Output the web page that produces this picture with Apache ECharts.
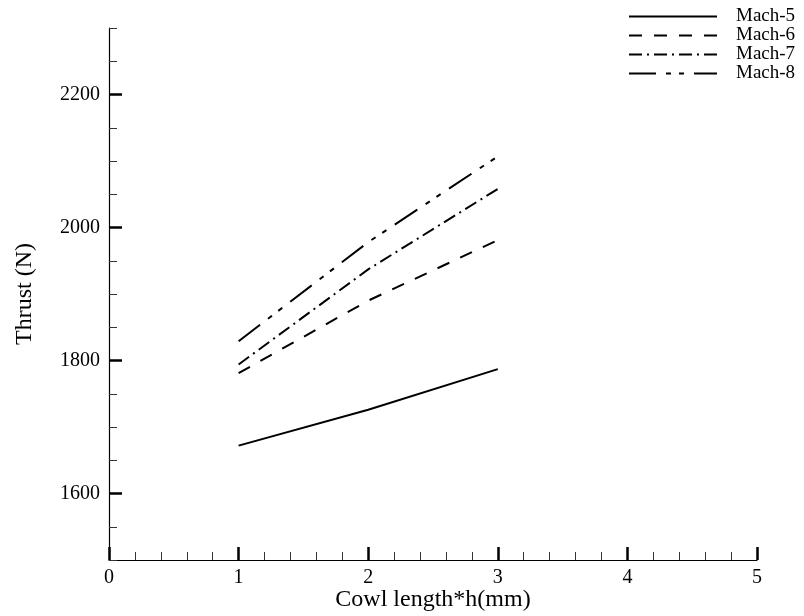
<!DOCTYPE html>
<html>
<head>
<meta charset="utf-8">
<script src="https://cdn.jsdelivr.net/npm/echarts@6/dist/echarts.min.js"></script>
<style>
  html, body { margin: 0; padding: 0; background: #fff; }
  #chart { width: 804px; height: 616px; }
</style>
</head>
<body>
<div id="chart"></div>
<script>
// Cowl length multiples on the x axis
const cowlLength = [1, 2, 3];
// Thrust (N) for each flight Mach number
const mach5 = [1672, 1726, 1787];
const mach6 = [1781, 1890, 1981];
const mach7 = [1794, 1937, 2058];
const mach8 = [1829, 1978, 2107];
const seriesNames = ['Mach-5', 'Mach-6', 'Mach-7', 'Mach-8'];
// Labelled thrust values on the y axis
const thrustTicks = [1600, 1800, 2000, 2200];

const FONT = '"Liberation Serif", "Times New Roman", serif';

function pairs(ys) {
  return cowlLength.map((x, i) => [x, ys[i]]);
}

const dashStyles = ['solid', [13, 12], [13, 5, 2, 5], [27, 10, 5, 8, 5, 10]];
const values = [mach5, mach6, mach7, mach8];

const chart = echarts.init(document.getElementById('chart'));
chart.setOption({
  backgroundColor: '#fff',
  animation: false,
  grid: { left: 109, right: 47, top: 28, bottom: 56, containLabel: false, outerBoundsMode: 'none' },
  legend: {
    orient: 'vertical',
    left: 628,
    top: 7,
    itemWidth: 88,
    itemHeight: 14,
    itemGap: 0,
    padding: 0,
    itemStyle: { opacity: 0 },
    textStyle: { fontFamily: FONT, fontSize: 19, color: '#000', padding: [0, 0, 0, 14] },
    data: seriesNames
  },
  xAxis: {
    type: 'value',
    min: 0,
    max: 5,
    interval: 1,
    name: 'Cowl length*h(mm)',
    nameLocation: 'middle',
    nameGap: 28,
    nameMoveOverlap: false,
    nameTextStyle: { fontFamily: FONT, fontSize: 24, color: '#000' },
    axisLine: { show: true, onZero: false, lineStyle: { color: '#000', width: 1.2 } },
    axisTick: { show: true, inside: true, length: 13, lineStyle: { color: '#000', width: 2.5 } },
    minorTick: { show: true, splitNumber: 5, length: 8, lineStyle: { color: '#333', width: 1 } },
    axisLabel: { fontFamily: FONT, fontSize: 20, color: '#000', margin: 8 },
    splitLine: { show: false },
    minorSplitLine: { show: false }
  },
  yAxis: [
    {
      type: 'value',
      min: 1500,
      max: 2300,
      interval: 50,
      name: 'Thrust (N)',
      nameLocation: 'middle',
      nameRotate: 90,
      nameGap: 72,
      nameMoveOverlap: false,
      nameTextStyle: { fontFamily: FONT, fontSize: 24, color: '#000' },
      axisLine: { show: true, onZero: false, lineStyle: { color: '#000', width: 1.2 } },
      axisTick: { show: true, inside: true, length: 8, lineStyle: { color: '#333', width: 1 } },
      axisLabel: {
        fontFamily: FONT, fontSize: 20, color: '#000', margin: 9,
        formatter: v => (thrustTicks.indexOf(v) >= 0 ? String(v) : '')
      },
      splitLine: { show: false }
    },
    {
      // major ticks at the labelled thrust values
      type: 'value',
      min: 1500,
      max: 2300,
      position: 'left',
      axisLine: { show: false },
      axisLabel: { show: false },
      axisTick: {
        show: true, inside: true, length: 13,
        customValues: thrustTicks,
        lineStyle: { color: '#000', width: 2.5 }
      },
      splitLine: { show: false }
    }
  ],
  series: values.map((ys, i) => ({
    name: seriesNames[i],
    type: 'line',
    yAxisIndex: 0,
    data: pairs(ys),
    symbol: 'none',
    lineStyle: { color: '#000', width: 2, type: dashStyles[i] },
    itemStyle: { color: '#000' }
  }))
});
</script>
</body>
</html>
